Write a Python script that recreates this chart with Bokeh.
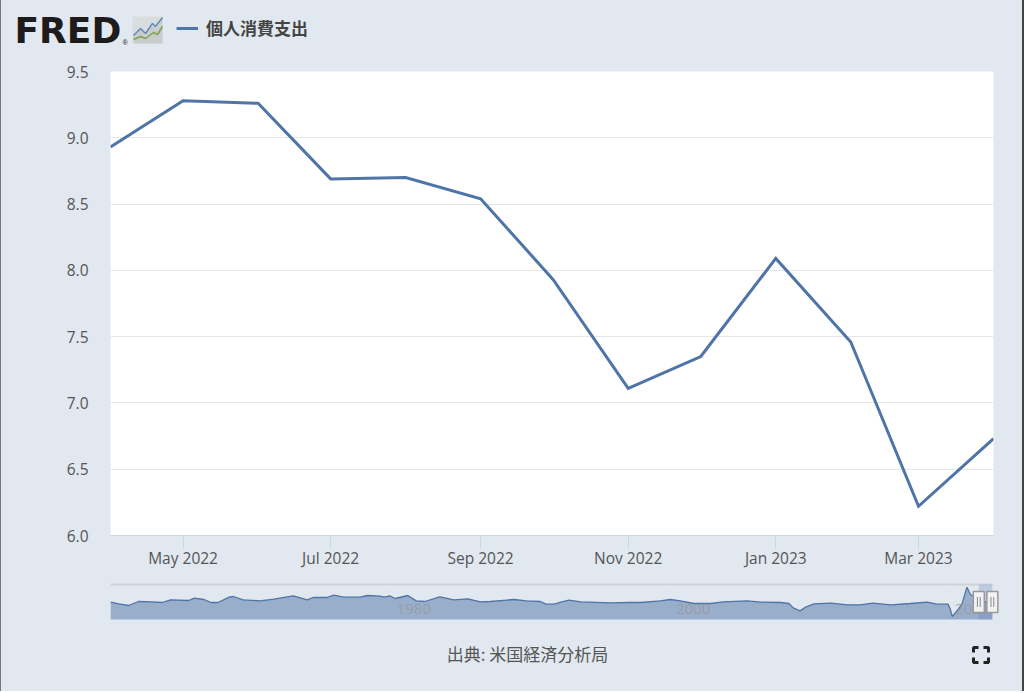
from bokeh.plotting import figure
from bokeh.layouts import column
from bokeh.embed import file_html
from bokeh.resources import INLINE
from bokeh.core.properties import value
from bokeh.models import Range1d, FixedTicker, DatetimeTickFormatter, Legend
import pandas as pd

BG = "#e1e8ef"
BLUE = "#4f74a8"
SERIES = "個人消費支出"
SOURCE = "出典: 米国経済分析局"

months = ["2022-04-01","2022-05-01","2022-06-01","2022-07-01","2022-08-01","2022-09-01",
          "2022-10-01","2022-11-01","2022-12-01","2023-01-01","2023-02-01","2023-03-01","2023-04-01"]
values = [8.93,9.28,9.26,8.69,8.70,8.54,7.93,7.11,7.35,8.09,7.46,6.22,6.73]
x_ticks = ["2022-05-01","2022-07-01","2022-09-01","2022-11-01","2023-01-01","2023-03-01"]
y_ticks = [6.0,6.5,7.0,7.5,8.0,8.5,9.0,9.5]

nav_years = [1960.0,1960.6,1961.3,1962.0,1962.9,1963.7,1964.3,1965.6,1966.0,1966.7,1967.2,1967.7,1968.5,1968.8,
             1969.5,1970.7,1971.7,1973.1,1974.1,1974.5,1975.5,1976.0,1976.7,1977.9,1978.4,1979.3,1979.6,1980.0,
             1980.4,1981.3,1981.9,1982.5,1983.6,1984.6,1985.6,1986.5,1987.2,1988.9,1989.8,1990.8,1991.2,1991.8,
             1992.25,1992.85,1993.7,1995.8,1997.3,1998.0,1999.4,2000.1,2000.8,2001.8,2003.0,2003.9,2005.6,2006.6,
             2008.0,2008.6,2008.9,2009.4,2009.8,2010.4,2011.6,2012.8,2013.7,2014.6,2015.9,2017.3,2018.5,2019.2,
             2020.0,2020.15,2020.3,2020.75,2021.0,2021.35,2021.6,2022.1,2022.3,2023.17]
nav_values = [8.6,6.6,4.6,9.4,9.0,8.2,11.4,10.6,13.4,11.8,8.2,8.2,14.6,15.4,
              11.4,10.2,12.2,16.2,11.4,14.2,14.2,17.0,14.6,14.6,16.6,15.8,14.6,16.2,
              13.0,16.6,10.2,9.4,15.0,11.4,12.6,9.0,9.4,11.8,10.2,9.4,6.2,6.2,
              8.6,11.0,9.0,7.8,8.2,8.2,10.2,11.8,10.2,7.0,7.0,9.0,10.2,8.6,
              8.2,7.0,1.8,-1.8,2.6,6.6,7.4,5.4,5.4,7.4,5.4,7.0,8.6,6.2,
              6.2,0.6,-8.6,0.6,6.6,26.6,17.8,12.6,10.6,6.6]
nav_ticks = [1980, 2000, 2020]
nav_labels = ["1980", "2000", "2020"]
sel_start, sel_end = 2022.2, 2023.17
NAV_BASE = -12.2
NAV_TOP = 29.8
FIG_W = 1021
FIG_MARGIN = (0, 2, 0, 1)


def bare(fig):
    fig.outline_line_color = None
    fig.background_fill_color = BG
    fig.border_fill_color = BG
    fig.min_border = 0
    fig.min_border_left = 0
    fig.min_border_right = 0
    fig.min_border_top = 0
    fig.min_border_bottom = 0
    fig.frame_align = False
    fig.grid.visible = False
    fig.margin = FIG_MARGIN
    return fig


# Header: logo and legend, in page pixels
head = bare(figure(width=FIG_W, height=55, x_range=Range1d(1, 1022), y_range=Range1d(55, 0),
                   x_axis_type=None, y_axis_type=None, toolbar_location=None, output_backend="svg"))
head.text([14], [30], text=["FRED"], text_font=value("DejaVu Sans"), text_font_style="bold",
          text_font_size="36px", text_color="#1d1b1c", text_baseline="middle")
head.text([122], [42], text=["®"], text_font=value("Liberation Sans"), text_font_size="7px",
          text_color="#1d1b1c", text_baseline="middle")
head.quad(left=[132], right=[162], top=[16], bottom=[43], fill_color="#d9dde0", line_color=None)
head.varea([133, 140, 145, 153, 157, 162], [35, 29, 32, 25, 27, 16], [43]*6, fill_color="#c9cccd")
head.line([133, 140, 145, 152, 155, 162], [35, 28, 33, 23, 26, 17], line_color="#5f8bb8", line_width=1.5)
head.line([133, 140, 145, 153, 157, 162], [39, 36, 38, 32, 34, 26], line_color="#7ea24e", line_width=1.5)
leg_line = head.line([-100, -90], [-100, -100], line_color=BLUE, line_width=3)
legend = Legend(items=[(SERIES, [leg_line])], location=(175, 15), orientation="horizontal",
                background_fill_alpha=0, border_line_color=None, margin=0, padding=0,
                glyph_width=22, glyph_height=20, label_standoff=8,
                label_text_font="Noto Sans CJK JP", label_text_font_style="bold",
                label_text_font_size="17px", label_text_color="#444444")
head.add_layout(legend, "center")

# Main chart
dates = pd.to_datetime(months)
main = figure(width=FIG_W, height=520, x_axis_type="datetime",
              x_range=Range1d(dates[0], dates[-1]), y_range=Range1d(6.0, 9.5),
              toolbar_location=None, output_backend="svg", margin=FIG_MARGIN,
              min_border_top=16, min_border_bottom=40, min_border_left=109, min_border_right=29)
main.frame_align = False
main.background_fill_color = "white"
main.border_fill_color = BG
main.outline_line_color = None
main.line(dates, values, line_color=BLUE, line_width=3, line_join="miter")
main.xgrid.visible = False
main.ygrid.grid_line_color = "#e6e6e6"
main.ygrid.ticker = FixedTicker(ticks=y_ticks)
main.yaxis.ticker = FixedTicker(ticks=y_ticks)
main.yaxis.major_label_overrides = {v: f"{v:.1f}" for v in y_ticks}
main.yaxis.axis_line_color = None
main.yaxis.major_tick_line_color = None
main.yaxis.minor_tick_line_color = None
main.yaxis.major_tick_out = 0
main.yaxis.major_tick_in = 0
main.yaxis.major_label_standoff = 22
main.xaxis.ticker = FixedTicker(ticks=[pd.Timestamp(t).value / 1e6 for t in x_ticks])
main.xaxis.formatter = DatetimeTickFormatter(days="%b %Y", months="%b %Y", years="%b %Y", hours="%b %Y",
                                             context=None)
main.xaxis.axis_line_color = "#ccd6eb"
main.xaxis.major_tick_line_color = "#ccd6eb"
main.xaxis.major_tick_in = 0
main.xaxis.major_tick_out = 14
main.xaxis.minor_tick_line_color = None
main.xaxis.major_label_standoff = -3
for ax in (main.xaxis[0], main.yaxis[0]):
    ax.major_label_text_font = "Open Sans"
    ax.major_label_text_font_size = "15.5px"
    ax.major_label_text_color = "#555555"

# Navigator
nav = bare(figure(width=FIG_W, height=50, x_range=Range1d(1960.0, 2025.33), y_range=Range1d(-19.4, 40.6),
                  x_axis_type=None, y_axis_type=None, toolbar_location=None, output_backend="svg"))
nav.min_border_left = 109
nav.segment([nav_years[0]], [NAV_TOP], [nav_years[-1]], [NAV_TOP], line_color="#cfd3d6", line_width=2)
nav.segment(nav_ticks, [NAV_BASE]*3, nav_ticks, [NAV_TOP]*3, line_color="#e6e8ea", line_width=1)
nav.varea(nav_years, nav_values, [NAV_BASE]*len(nav_years), fill_color="#4f74a8", fill_alpha=0.5)
nav.line(nav_years, nav_values, line_color="#4f74a8", line_width=1.3)
nav.text(nav_ticks, [NAV_BASE]*3, text=nav_labels, x_offset=7, y_offset=-11, text_font=value("Open Sans"),
         text_font_size="15px", text_color="#999999", text_alpha=0.8, text_baseline="middle")
nav.quad(left=[sel_start], right=[sel_end], top=[NAV_TOP], bottom=[NAV_BASE], fill_color="#6685c2",
         fill_alpha=0.3, line_color=None)
nav.rect([sel_start, sel_end], [8.8, 8.8], width=11, height=21, width_units="screen", height_units="screen",
         fill_color="#f2f2f2", line_color="#999999", line_width=1.5)
for gap in (-0.1, 0.1):
    nav.rect([sel_start + gap, sel_end + gap], [8.8, 8.8], width=1, height=10, width_units="screen",
             height_units="screen", fill_color="#888888", line_color=None)

# Footer: source and fullscreen icon, in page pixels
foot = bare(figure(width=FIG_W, height=66, x_range=Range1d(1, 1022), y_range=Range1d(691, 625),
                   x_axis_type=None, y_axis_type=None, toolbar_location=None, output_backend="svg"))
foot.text([527], [653], text=[SOURCE], text_font=value("Noto Sans CJK JP"), text_font_size="17px",
          text_color="#555555", text_align="center", text_baseline="middle")
foot.multi_line([[973, 973, 978], [983, 988, 988], [973, 973, 978], [983, 988, 988]],
                [[652, 647, 647], [647, 647, 652], [657, 662, 662], [662, 662, 657]],
                line_color="#222222", line_width=3)

page = column(head, main, nav, foot, spacing=0,
              styles={"background": f"linear-gradient(to right,#777777 0 1px,{BG} 1px 1022px,#444444 1022px)"})
open("out.html", "w").write(file_html(page, INLINE))
